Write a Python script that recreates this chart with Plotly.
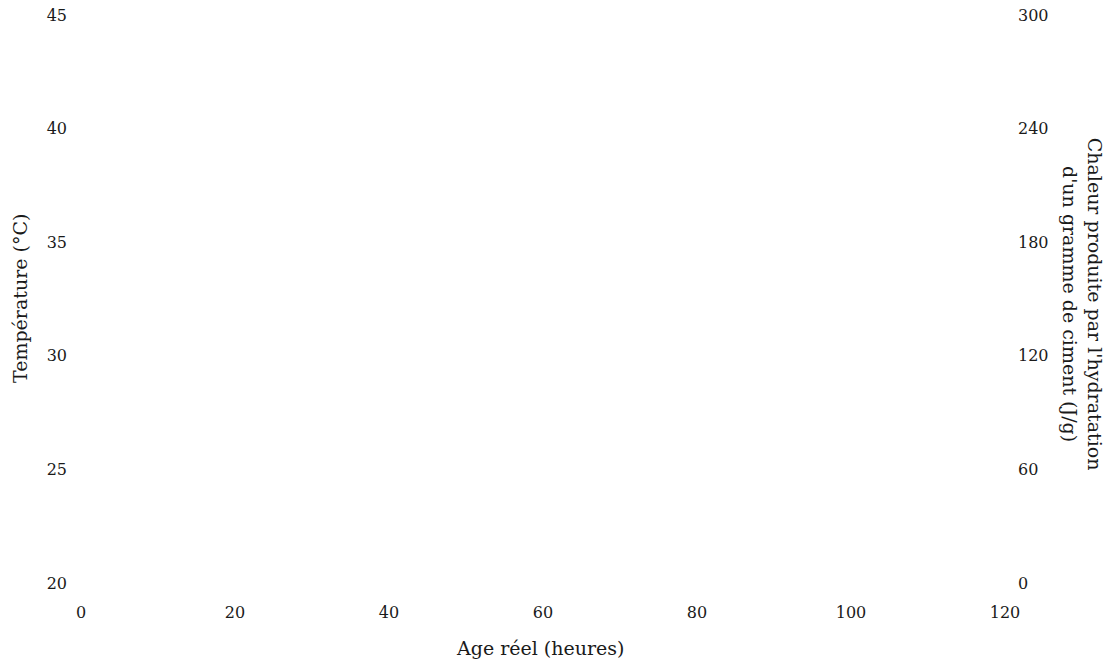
import plotly.graph_objects as go

# Axis scales (the plot area holds no data marks)
age_ticks = [0, 20, 40, 60, 80, 100, 120]          # Age réel (heures)
temp_ticks = [20, 25, 30, 35, 40, 45]              # Température (°C)
heat_ticks = [0, 60, 120, 180, 240, 300]           # Chaleur (J/g)

x_title = "Age réel (heures)"
y_title = "Température (°C)"
y2_title = "Chaleur produite par l'hydratation<br>d'un gramme de ciment (J/g)"

FONT = "DejaVu Serif"
INK = "#1a1a1a"

fig = go.Figure()
# empty traces so both y axes are instantiated
fig.add_trace(go.Scatter(x=[], y=[], mode="lines", showlegend=False, hoverinfo="skip"))
fig.add_trace(go.Scatter(x=[], y=[], mode="lines", yaxis="y2", showlegend=False, hoverinfo="skip"))

common = dict(showgrid=False, zeroline=False, showline=False, ticks="", automargin=False,
              tickfont=dict(family=FONT, size=16, color=INK))

fig.update_layout(
    width=1111, height=664,
    margin=dict(l=81, r=106, t=15, b=81, autoexpand=False),
    paper_bgcolor="white", plot_bgcolor="white",
    showlegend=False,
    xaxis=dict(range=[age_ticks[0], age_ticks[-1]], tickvals=age_ticks,
               ticktext=[str(v) for v in age_ticks], ticklabelstandoff=18, **common),
    yaxis=dict(range=[temp_ticks[0], temp_ticks[-1]], tickvals=temp_ticks,
               ticktext=[str(v) for v in temp_ticks], ticklabelstandoff=13, **common),
    yaxis2=dict(range=[heat_ticks[0], heat_ticks[-1]], tickvals=heat_ticks,
                ticktext=[str(v) for v in heat_ticks], overlaying="y", side="right",
                ticklabelstandoff=12, **common),
    annotations=[
        dict(text=x_title, xref="paper", yref="paper", x=0.497, y=-0.1144,
             xanchor="center", yanchor="middle", showarrow=False,
             font=dict(family=FONT, size=19, color=INK)),
        dict(text=y_title, xref="paper", yref="paper", x=-0.066, y=0.5,
             xanchor="center", yanchor="middle", textangle=-90, showarrow=False,
             font=dict(family=FONT, size=19, color=INK)),
        dict(text=y2_title, xref="paper", yref="paper", x=1.0833, y=0.49,
             xanchor="center", yanchor="middle", textangle=90, showarrow=False,
             font=dict(family=FONT, size=19, color=INK)),
    ],
)

fig.write_html(
    "out.html",
    config={"displayModeBar": False},
    post_script="document.body.style.margin='0';document.body.style.overflow='hidden';",
)
